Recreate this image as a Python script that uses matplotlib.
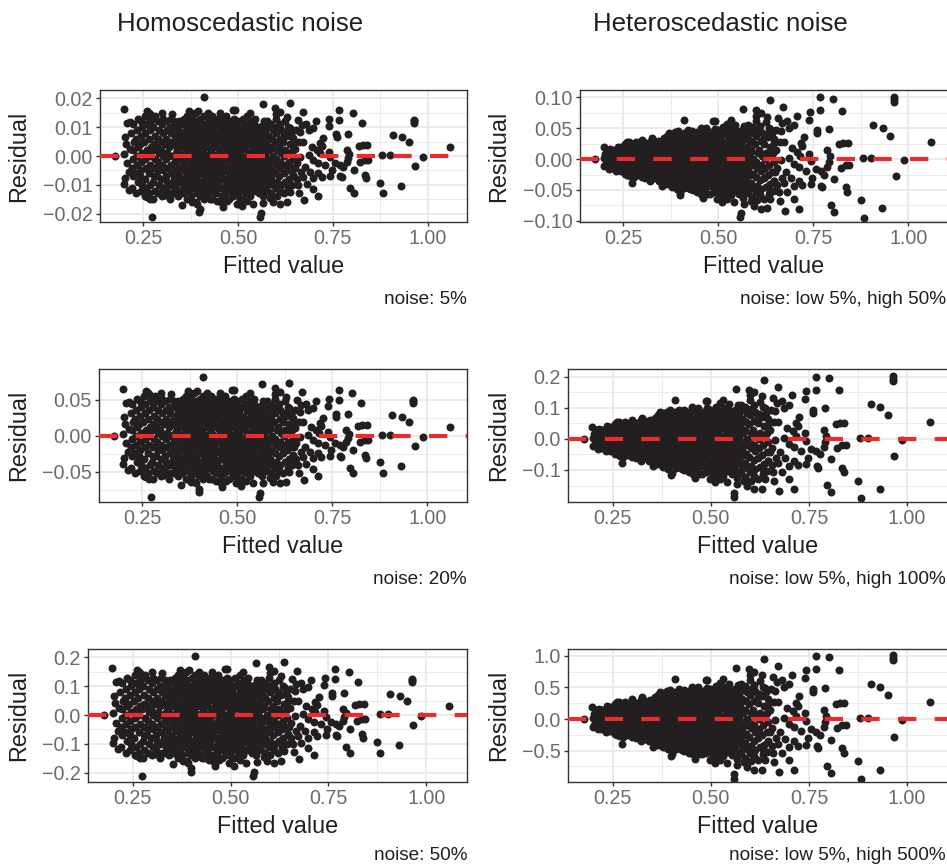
import matplotlib
matplotlib.use("Agg")
import matplotlib.pyplot as plt
from matplotlib.ticker import FixedLocator, NullFormatter

W, H = 947, 865
plt.rcParams['font.family'] = ['Liberation Sans', 'DejaVu Sans']

# ---------------- data ----------------
# fitted values, in thousandths
fitted_value = [
    221, 224, 220, 223, 222, 225, 219, 222,
    232, 235, 231, 234, 233, 236, 230, 233, 235,
    243, 246, 242, 245, 244, 247, 241, 244, 246, 243,
    255, 258, 254, 257, 256, 259, 253, 256, 258, 255,
    266, 269, 265, 268, 267, 270, 264, 267, 269, 266,
    277, 280, 276, 279, 278, 281, 275, 278, 280, 277, 279,
    288, 291, 287, 290, 289, 292, 286, 289, 291, 288,
    299, 302, 298, 301, 300, 303, 297, 300, 302, 299, 301,
    310, 313, 309, 312, 311, 314, 308, 311, 313, 310,
    321, 324, 320, 323, 322, 325, 319, 322, 324, 321, 323,
    332, 335, 331, 334, 333, 336, 330, 333, 335, 332,
    343, 346, 342, 345, 344, 347, 341, 344, 346, 343, 345,
    355, 358, 354, 357, 356, 359, 353, 356, 358, 355, 357,
    366, 369, 365, 368, 367, 370, 364, 367, 369, 366, 368, 365,
    377, 380, 376, 379, 378, 381, 375, 378, 380, 377, 379,
    388, 391, 387, 390, 389, 392, 386, 389, 391, 388, 390, 387,
    399, 402, 398, 401, 400, 403, 397, 400, 402, 399, 401,
    410, 413, 409, 412, 411, 414, 408, 411, 413, 410, 412, 409,
    421, 424, 420, 423, 422, 425, 419, 422, 424, 421, 423,
    432, 435, 431, 434, 433, 436, 430, 433, 435, 432, 434, 431,
    443, 446, 442, 445, 444, 447, 441, 444, 446, 443, 445,
    455, 458, 454, 457, 456, 459, 453, 456, 458, 455, 457, 454,
    466, 469, 465, 468, 467, 470, 464, 467, 469, 466, 468,
    477, 480, 476, 479, 478, 481, 475, 478, 480, 477, 479,
    488, 491, 487, 490, 489, 492, 486, 489, 491, 488, 490, 487,
    499, 502, 498, 501, 500, 503, 497, 500, 502, 499,
    510, 513, 509, 512, 511, 514, 508, 511, 513, 510, 512,
    521, 524, 520, 523, 522, 525, 519, 522, 524, 521, 523,
    532, 535, 531, 534, 533, 536, 530, 533, 535, 532, 534,
    543, 546, 542, 545, 544, 547, 541, 544, 546, 543, 545,
    555, 558, 554, 557, 556, 559, 553, 556, 558, 555,
    566, 569, 565, 568, 567, 570, 564, 567, 569, 566, 568,
    577, 580, 576, 579, 578, 581, 575, 578, 580, 577,
    588, 591, 587, 590, 589, 592, 586, 589, 591, 588,
    599, 602, 598, 601, 600, 603, 597, 600, 602, 599,
    610, 613, 609, 612, 611, 614, 608, 611, 613, 610,
    621, 624, 620, 623, 622, 625, 619, 622, 624,
    632, 635, 631, 634, 633, 636, 630, 633,
    643, 646, 642, 645, 644, 647, 641,
    # extra points of the dense centre
    336, 339, 337, 340, 338, 339,
    348, 351, 349, 352, 350, 351,
    359, 362, 360, 363, 361, 362,
    370, 373, 371, 374, 372, 373,
    381, 384, 382, 385, 383, 384,
    392, 395, 393, 396, 394, 395,
    403, 406, 404, 407, 405, 406,
    414, 417, 415, 418, 416, 417,
    425, 428, 426, 429, 427, 428,
    436, 439, 437, 440, 438, 439,
    447, 450, 448, 451, 449, 450,
    459, 462, 460, 463, 461, 462,
    470, 473, 471, 474, 472, 473,
    481, 484, 482, 485, 483, 484,
    492, 495, 493, 496, 494, 495,
    503, 506, 504, 507, 505, 506,
    514, 517, 515, 518, 516, 517,
    525, 528, 526, 529, 527, 528,
    536, 539, 537, 540, 538, 539,
    547, 550, 548, 551, 549, 550,
    559, 562, 560, 563, 561, 562,
    570, 573, 571, 574, 572, 573,
    581, 584, 582, 585, 583, 584,
    652, 655, 661, 667, 658, 662,
    # sparser points
    176, 198, 203, 205, 200, 207, 203, 200, 213, 216,
    208, 212, 215, 260, 268, 282, 409, 370, 378, 491,
    565, 598, 611, 636, 325, 453, 532, 395, 420, 600,
    300, 273, 352, 398, 558, 560, 567, 460, 497, 523,
    593, 611, 268, 260, 308, 391, 400, 378, 426, 470,
    444, 510, 540, 585, 629, 629, 664, 646, 672, 694,
    708, 716, 686, 664, 699, 712, 677, 655, 690, 672,
    646, 699, 629, 659, 681, 637, 699, 674, 712, 651,
    637, 620, 671, 686, 699, 706, 680, 717, 721, 712,
    721, 650, 739, 743, 730, 747, 756, 769, 760, 725,
    741, 767, 767, 802, 826, 759, 791, 787, 794, 791,
    787, 778, 805, 822, 835, 844, 818, 829, 840, 835,
    838, 796, 805, 743, 770, 773, 739, 875, 882, 881,
    901, 908, 932, 952, 930, 963, 963, 963, 966, 987,
    1059, 668, 505, 602,
]

# residuals of the homoscedastic model at 5 % noise, in thousandths
residual_homo = [
    -11, -7, -4, -1, 2, 5, 8, 11,
    -13, -9, -6, -3, 0, 3, 6, 9, 13,
    -12, -10, -7, -5, -2, 1, 4, 7, 10, 12,
    -14, -11, -8, -4, -1, 2, 5, 8, 11, 14,
    -13, -10, -6, -3, 0, 3, 6, 9, 12, 15,
    -15, -12, -9, -7, -4, -1, 2, 4, 7, 10, 13,
    -13, -10, -7, -5, -2, 1, 3, 6, 9, 12,
    -14, -11, -8, -5, -3, 0, 2, 5, 8, 11, 13,
    -12, -9, -7, -4, -1, 1, 4, 6, 9, 12,
    -15, -13, -10, -6, -3, 0, 3, 5, 8, 10, 13,
    -13, -11, -8, -5, -2, 1, 4, 7, 10, 12,
    -14, -12, -9, -7, -4, -1, 2, 5, 7, 9, 12,
    -13, -10, -8, -5, -3, 0, 3, 6, 8, 11, 13,
    -15, -12, -9, -6, -4, -1, 1, 4, 7, 10, 12, 14,
    -14, -11, -8, -6, -3, 0, 2, 5, 8, 11, 13,
    -16, -13, -10, -7, -4, -2, 1, 3, 6, 9, 12, 15,
    -14, -12, -9, -6, -3, -1, 2, 4, 7, 10, 13,
    -15, -13, -10, -8, -5, -2, 0, 3, 6, 9, 11, 14,
    -14, -11, -8, -6, -3, 0, 3, 5, 8, 11, 13,
    -15, -12, -10, -7, -4, -2, 1, 4, 6, 9, 12, 14,
    -13, -11, -8, -5, -2, 0, 3, 6, 8, 11, 13,
    -16, -14, -11, -8, -6, -3, 0, 2, 5, 8, 10, 13,
    -13, -10, -8, -5, -2, 1, 3, 6, 9, 12, 14,
    -15, -12, -9, -7, -4, -1, 2, 4, 7, 10, 12,
    -14, -11, -8, -6, -3, 0, 3, 5, 8, 11, 13, 16,
    -13, -10, -7, -5, -2, 1, 4, 6, 9, 12,
    -15, -12, -9, -6, -4, -1, 2, 5, 7, 10, 13,
    -13, -11, -8, -5, -2, 0, 3, 6, 9, 11, 14,
    -14, -12, -9, -7, -4, -1, 1, 4, 7, 9, 12,
    -12, -10, -7, -4, -2, 1, 3, 6, 8, 11, 13,
    -13, -11, -8, -6, -3, 0, 2, 5, 8, 10,
    -14, -12, -9, -7, -4, -1, 1, 4, 7, 9, 12,
    -12, -9, -6, -4, -1, 2, 4, 7, 10, 12,
    -13, -10, -8, -5, -2, 0, 3, 6, 9, 11,
    -11, -9, -6, -3, -1, 2, 5, 8, 10, 13,
    -12, -10, -7, -4, -2, 1, 3, 6, 9, 11,
    -13, -9, -6, -3, 0, 2, 5, 8, 12,
    -11, -8, -5, -2, 1, 4, 7, 10,
    -10, -7, -4, -1, 2, 5, 8,
    # extra points of the dense centre
    -9.5, -5.5, -1.5, 2.5, 6.5, 10.5,
    -7.5, -3.5, 0.5, 4.5, 8.5, -11.5,
    -9.5, -5.5, -1.5, 2.5, 6.5, 10.5,
    -7.5, -3.5, 0.5, 4.5, 8.5, -11.5,
    -9.5, -5.5, -1.5, 2.5, 6.5, 10.5,
    -7.5, -3.5, 0.5, 4.5, 8.5, -11.5,
    -9.5, -5.5, -1.5, 2.5, 6.5, 10.5,
    -7.5, -3.5, 0.5, 4.5, 8.5, -11.5,
    -9.5, -5.5, -1.5, 2.5, 6.5, 10.5,
    -7.5, -3.5, 0.5, 4.5, 8.5, -11.5,
    -9.5, -5.5, -1.5, 2.5, 6.5, 10.5,
    -7.5, -3.5, 0.5, 4.5, 8.5, -11.5,
    -9.5, -5.5, -1.5, 2.5, 6.5, 10.5,
    -7.5, -3.5, 0.5, 4.5, 8.5, -11.5,
    -9.5, -5.5, -1.5, 2.5, 6.5, 10.5,
    -7.5, -3.5, 0.5, 4.5, 8.5, -11.5,
    -9.5, -5.5, -1.5, 2.5, 6.5, 10.5,
    -7.5, -3.5, 0.5, 4.5, 8.5, -11.5,
    -9.5, -5.5, -1.5, 2.5, 6.5, 10.5,
    -7.5, -3.5, 0.5, 4.5, 8.5, -11.5,
    -9.5, -5.5, -1.5, 2.5, 6.5, 10.5,
    -7.5, -3.5, 0.5, 4.5, 8.5, -11.5,
    -9.5, -5.5, -1.5, 2.5, 6.5, 10.5,
    9.0, -8.0, 5.0, -5.5, 12.5, -12.8,
    # sparser points
    0, 16.3, 6.5, 4.3, 0.8, -2.6, -7.8, -9.6, -11.9, 11.9,
    11.5, -5.5, 2.5, 15.6, 14.6, 14.0, 20.6, 15.6, 14.6, 16.0,
    18.0, 16.5, 15.4, 18.5, 14.5, 14.8, 15.0, 15.5, 14.8, 14.5,
    14.8, -21.2, -17.1, -19.6, -21.2, -19.7, -16.2, -17.7, -16.5, -15.7,
    -16.0, -16.5, -14.8, -14.2, -13.6, -16.5, -18.3, -15.9, -15.0, -15.5,
    -15.5, -17.5, -16.5, -14.5, -15.9, 13.6, 8.4, 6.1, 4.9, 3.2,
    2.0, 0.9, 0.3, -0.3, -1.4, -2.3, -3.8, -2.6, -5.5, -7.2,
    -6.7, -7.8, -9.0, -10.1, -9.6, -12.5, -11.3, -15.4, -14.0, 2.6,
    9.6, 7.2, 15.4, 9.0, 9.6, 12.1, 11.0, 4.4, 3.5, -6.0,
    -7.2, -4.0, 1.5, -0.5, -3.1, -4.9, -2.5, -3.1, 6.7, 6.1,
    12.7, 15.8, 12.5, 14.8, 11.4, 7.5, 7.5, 2.1, 0.7, -0.8,
    -2.0, -3.9, -4.9, -2.0, -1.4, -1.4, 3.6, 3.8, 3.8, -6.6,
    -7.8, -11.2, -13.0, -6.8, -6.8, -7.2, 10.5, -9.2, -13.0, 0.3,
    0.3, 7.4, 6.5, 4.8, -10.3, 12.5, 12.0, 11.5, -3.4, -0.2,
    3.0, 10.7, -15.0, -14.0,
]

# residuals of the heteroscedastic model at "low 5 %, high 50 %", in thousandths
residual_hetero = [
    -15, -10, -6, -1, 3, 7, 11, 15,
    -20, -14, -9, -5, 0, 5, 9, 14, 20,
    -19, -16, -11, -8, -3, 2, 6, 11, 16, 19,
    -24, -19, -14, -7, -2, 3, 9, 14, 19, 24,
    -23, -18, -11, -5, 0, 5, 11, 16, 22, 27,
    -29, -23, -17, -13, -8, -2, 4, 8, 13, 19, 25,
    -26, -20, -14, -10, -4, 2, 6, 12, 18, 24,
    -29, -23, -17, -11, -6, 0, 4, 11, 17, 23, 27,
    -26, -20, -15, -9, -2, 2, 9, 13, 20, 26,
    -35, -30, -23, -14, -7, 0, 7, 12, 18, 23, 30,
    -31, -26, -19, -12, -5, 2, 10, 17, 24, 29,
    -35, -30, -23, -18, -10, -3, 5, 13, 18, 23, 30,
    -34, -26, -21, -13, -8, 0, 8, 16, 21, 29, 34,
    -41, -32, -24, -16, -11, -3, 3, 11, 19, 27, 32, 38,
    -39, -31, -22, -17, -8, 0, 6, 14, 22, 31, 36,
    -46, -38, -29, -20, -12, -6, 3, 9, 17, 26, 35, 44,
    -42, -36, -27, -18, -9, -3, 6, 12, 21, 30, 39,
    -47, -40, -31, -25, -16, -6, 0, 9, 19, 28, 34, 43,
    -45, -35, -26, -19, -10, 0, 10, 16, 26, 35, 42,
    -50, -40, -33, -23, -13, -7, 3, 13, 20, 30, 40, 46,
    -44, -37, -27, -17, -7, 0, 10, 20, 27, 37, 44,
    -56, -49, -39, -28, -21, -11, 0, 7, 18, 28, 35, 46,
    -47, -36, -29, -18, -7, 4, 11, 22, 32, 43, 50,
    -56, -44, -33, -26, -15, -4, 7, 15, 26, 37, 44,
    -53, -42, -30, -23, -11, 0, 11, 19, 30, 42, 49, 61,
    -51, -39, -27, -20, -8, 4, 16, 23, 35, 47,
    -60, -48, -36, -24, -16, -4, 8, 20, 28, 40, 52,
    -53, -45, -33, -21, -8, 0, 12, 25, 37, 45, 57,
    -59, -50, -38, -29, -17, -4, 4, 17, 29, 38, 50,
    -52, -43, -30, -17, -9, 4, 13, 26, 34, 47, 56,
    -57, -48, -35, -26, -13, 0, 9, 22, 35, 44,
    -63, -54, -41, -32, -18, -5, 5, 18, 32, 41, 54,
    -55, -41, -28, -18, -5, 9, 18, 32, 46, 55,
    -61, -47, -38, -24, -9, 0, 14, 28, 42, 52,
    -53, -43, -29, -14, -5, 10, 24, 38, 48, 62,
    -59, -49, -34, -20, -10, 5, 15, 29, 44, 54,
    -65, -45, -30, -15, 0, 10, 25, 40, 60,
    -56, -41, -26, -10, 5, 20, 36, 51,
    -52, -36, -21, -5, 10, 26, 42,
    # extra points of the dense centre
    -23, -13, -4, 6, 16, 26,
    -19, -9, 1, 11, 22, -29,
    -25, -15, -4, 7, 17, 28,
    -21, -10, 1, 12, 23, -32,
    -27, -16, -4, 7, 19, 30,
    -22, -10, 1, 13, 25, -34,
    -29, -17, -5, 8, 20, 32,
    -24, -11, 2, 14, 27, -36,
    -31, -18, -5, 8, 21, 34,
    -25, -12, 2, 15, 28, -39,
    -33, -19, -5, 9, 22, 36,
    -27, -12, 2, 16, 30, -41,
    -35, -20, -5, 9, 24, 38,
    -28, -13, 2, 17, 32, -43,
    -37, -21, -6, 10, 25, 40,
    -30, -14, 2, 18, 34, -45,
    -38, -22, -6, 10, 26, 43,
    -31, -15, 2, 19, 35, -48,
    -40, -23, -6, 11, 28, 45,
    -33, -15, 2, 20, 37, -50,
    -42, -24, -7, 11, 29, 47,
    -34, -16, 2, 20, 39, -52,
    -44, -26, -7, 12, 30, 49,
    47, -42, 27, -30, 66, -68,
    # sparser points
    0, 19, 8, 5, 1, -3, -10, -12, -16, 16,
    15, -7, 3, 27, 26, 27, 63, 43, 41, 61,
    81, 79, 75, 95, 34, 51, 63, 46, 47, 70,
    31, -39, -44, -58, -94, -87, -73, -63, -64, -64,
    -76, -81, -27, -25, -30, -48, -55, -45, -49, -56,
    -53, -70, -70, -68, -80, 69, 45, 32, 27, 18,
    12, 5, 2, -2, -8, -13, -21, -14, -31, -39,
    -35, -44, -46, -54, -53, -64, -64, -84, -81, 14,
    49, 36, 84, 50, 55, 70, 61, 26, 21, -35,
    -42, -21, 9, -3, -19, -30, -16, -20, 42, 36,
    77, 100, 79, 98, 78, 47, 49, 14, 5, -5,
    -13, -25, -33, -14, -10, -10, 24, 26, 26, -46,
    -54, -74, -86, -41, -43, -46, 64, -67, -95, 2,
    2, 56, 51, 38, -80, 101, 97, 93, -28, -2,
    27, 58, -59, -67,
]

if not (len(fitted_value) == len(residual_homo) == len(residual_hetero)):
    raise ValueError("length mismatch: %d %d %d" % (len(fitted_value), len(residual_homo), len(residual_hetero)))

column_titles = ["Homoscedastic noise", "Heteroscedastic noise"]
homo_captions = ["noise: 5%", "noise: 20%", "noise: 50%"]
homo_noise_factor = [1, 4, 10]          # 5 %, 20 %, 50 %
hetero_captions = ["noise: low 5%, high 50%", "noise: low 5%, high 100%", "noise: low 5%, high 500%"]
hetero_noise_factor = [1, 2, 10]        # high 50 %, 100 %, 500 %

x_ticks = [0.25, 0.50, 0.75, 1.00]
x_tick_labels = ["0.25", "0.50", "0.75", "1.00"]
homo_y_ticks = [[-0.02, -0.01, 0.0, 0.01, 0.02], [-0.05, 0.0, 0.05], [-0.2, -0.1, 0.0, 0.1, 0.2]]
homo_y_labels = [["\u22120.02", "\u22120.01", "0.00", "0.01", "0.02"],
                 ["\u22120.05", "0.00", "0.05"],
                 ["\u22120.2", "\u22120.1", "0.0", "0.1", "0.2"]]
hetero_y_ticks = [[-0.10, -0.05, 0.0, 0.05, 0.10], [-0.1, 0.0, 0.1, 0.2], [-0.5, 0.0, 0.5, 1.0]]
hetero_y_labels = [["\u22120.10", "\u22120.05", "0.00", "0.05", "0.10"],
                   ["\u22120.1", "0.0", "0.1", "0.2"],
                   ["\u22120.5", "0.0", "0.5", "1.0"]]

# ---------------- layout / style ----------------
x_limits = (0.136, 1.104)
homo_y_limits = [(-0.0229, 0.0229), (-0.0917, 0.093), (-0.232, 0.229)]
hetero_y_limits = [(-0.102, 0.112), (-0.203, 0.225), (-0.995, 1.106)]
left_rects = [(100, 90, 467, 222), (99, 369, 467, 502), (88, 649, 467, 782)]
right_rects = [(580, 90, 948, 222), (568, 369, 948, 502), (568, 649, 948, 782)]

POINT = '#231f20'
RED = '#ED2B2B'
GRID = '#EBEBEB'
BORDER = '#333333'
TICKTXT = '#6b6b6b'
TXT = '#1f1f1f'

fig = plt.figure(figsize=(W / 100, H / 100), dpi=100)


def fx(px):
    return px / W


def fy(py):
    return 1 - py / H


def minor_from(major, lo, hi):
    step = major[1] - major[0]
    vals = [major[0] - step / 2] + [(a + b) / 2 for a, b in zip(major[:-1], major[1:])] + [major[-1] + step / 2]
    return [v for v in vals if lo < v < hi]


def panel(rect, xs, ys, ylim, yticks, ylabels, caption, caption_right, ylabel_x):
    l, t, r, b = rect
    ax = fig.add_axes([fx(l), fy(b), fx(r) - fx(l), fy(t) - fy(b)])
    ax.set_xlim(*x_limits)
    ax.set_ylim(*ylim)
    ax.set_axisbelow(True)
    ax.xaxis.set_major_locator(FixedLocator(x_ticks))
    ax.set_xticklabels(x_tick_labels)
    ax.yaxis.set_major_locator(FixedLocator(yticks))
    ax.set_yticklabels(ylabels)
    ax.xaxis.set_minor_locator(FixedLocator(minor_from(x_ticks, *x_limits)))
    ax.yaxis.set_minor_locator(FixedLocator(minor_from(yticks, *ylim)))
    ax.xaxis.set_minor_formatter(NullFormatter())
    ax.yaxis.set_minor_formatter(NullFormatter())
    ax.grid(which='major', color=GRID, lw=1.4)
    ax.grid(which='minor', color=GRID, lw=0.7)
    ax.tick_params(which='major', length=2.75, width=1.0, color=BORDER,
                   labelsize=14.2, labelcolor=TICKTXT, pad=2.5)
    ax.tick_params(which='minor', length=0)
    for s in ax.spines.values():
        s.set_color(BORDER)
        s.set_linewidth(1.0)
    ax.scatter(xs, ys, s=33, c=POINT, linewidths=0, zorder=2)
    ax.axhline(0, color=RED, lw=3.0, ls=(0, (4.4, 4.4)), zorder=3)
    fig.text(fx((l + r) / 2), fy(b + 51), "Fitted value",
             ha='center', va='baseline', fontsize=16.8, color=TXT)
    fig.text(fx(ylabel_x), fy((t + b) / 2), "Residual", rotation=90,
             ha='center', va='center', fontsize=16.8, color=TXT)
    fig.text(fx(caption_right), fy(min(b + 82, 860)), caption, ha='right', va='baseline',
             fontsize=13.7, color=TXT)
    return ax


x_data = [v / 1000 for v in fitted_value]
for i in range(3):
    homo = [v / 1000 * homo_noise_factor[i] for v in residual_homo]
    panel(left_rects[i], x_data, homo, homo_y_limits[i], homo_y_ticks[i], homo_y_labels[i],
          homo_captions[i], 467, 19)
    het = [v / 1000 * hetero_noise_factor[i] for v in residual_hetero]
    panel(right_rects[i], x_data, het, hetero_y_limits[i], hetero_y_ticks[i], hetero_y_labels[i],
          hetero_captions[i], 946, 499)

fig.text(fx(240), fy(31), column_titles[0], ha='center', va='baseline', fontsize=18.6, color=TXT)
fig.text(fx(720), fy(31), column_titles[1], ha='center', va='baseline', fontsize=18.6, color=TXT)

fig.savefig("out.png", dpi=100, facecolor='white')
